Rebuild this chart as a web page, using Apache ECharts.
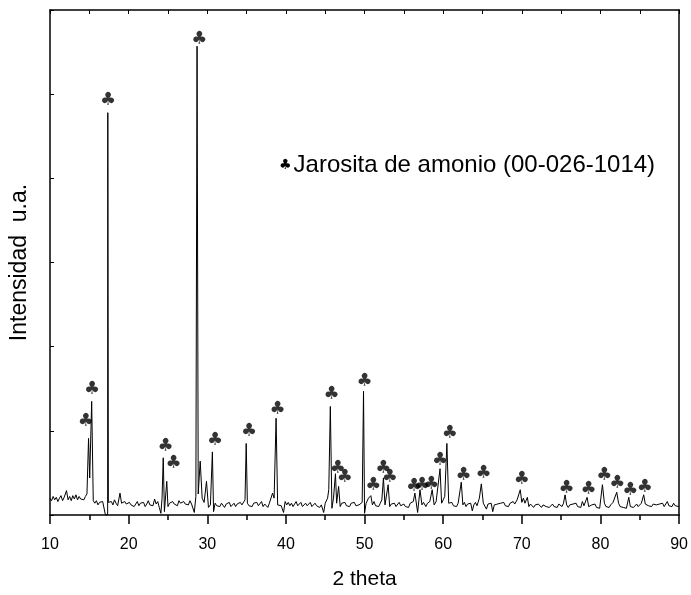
<!DOCTYPE html>
<html>
<head>
<meta charset="utf-8">
<script src="https://cdn.jsdelivr.net/npm/echarts@6/dist/echarts.min.js"></script>
<style>
  html, body { margin: 0; padding: 0; background: #fff; }
  #chart { width: 691px; height: 595px; }
</style>
</head>
<body>
<div id="chart"></div>
<script>
// diffractogram: [2 theta, intensity (a.u.)]
const xrdPattern = [
  [10.0, 20], [10.2, 17], [10.4, 22], [10.6, 18], [10.8, 21], [11.0, 16], [11.2, 20], [11.4, 23],
  [11.6, 17], [11.8, 21], [12.0, 19], [12.1, 29], [12.3, 18], [12.5, 22], [12.7, 17], [12.9, 23],
  [13.1, 19], [13.3, 24], [13.5, 18], [13.7, 22], [13.9, 19], [14.1, 21], [14.3, 18], [14.5, 22],
  [14.7, 25], [14.9, 91], [15.05, 44], [15.3, 135], [15.5, 17], [15.7, 14], [15.9, 17], [16.1, 12],
  [16.3, 15], [16.5, 13], [16.7, 16], [16.9, 14], [17.05, 0], [17.33, 0], [17.35, 478], [17.42, 15],
  [17.6, 13], [17.8, 16], [18.0, 12], [18.2, 18], [18.4, 14], [18.6, 11], [18.9, 26], [19.1, 14],
  [19.3, 12], [19.5, 16], [19.7, 13], [19.9, 11], [20.1, 15], [20.3, 12], [20.5, 14], [20.7, 10],
  [20.9, 13], [21.1, 16], [21.3, 11], [21.5, 14], [21.7, 12], [21.9, 15], [22.1, 10], [22.3, 13],
  [22.5, 17], [22.7, 12], [22.9, 14], [23.1, 11], [23.3, 19], [23.5, 13], [23.7, 16], [23.9, 9],
  [24.1, 2], [24.25, 20], [24.4, 68], [24.55, 4], [24.85, 40], [25.0, 10], [25.2, 14], [25.4, 12],
  [25.6, 16], [25.8, 13], [26.0, 15], [26.2, 11], [26.4, 17], [26.6, 14], [26.8, 12], [27.0, 16],
  [27.2, 13], [27.4, 15], [27.6, 12], [27.8, 17], [28.0, 13], [28.2, 11], [28.35, 3], [28.55, 22],
  [28.7, 557], [28.85, 25], [29.1, 64], [29.35, 20], [29.6, 15], [29.9, 40], [30.15, 9], [30.4, 12],
  [30.65, 75], [30.8, 4], [31.0, 14], [31.2, 11], [31.4, 13], [31.6, 10], [31.8, 14], [32.0, 12],
  [32.2, 9], [32.4, 13], [32.6, 11], [32.8, 15], [33.0, 10], [33.2, 12], [33.4, 14], [33.6, 10],
  [33.8, 13], [34.0, 11], [34.2, 15], [34.4, 12], [34.6, 14], [34.8, 18], [34.95, 85], [35.1, 14],
  [35.3, 11], [35.5, 13], [35.7, 10], [35.9, 14], [36.1, 12], [36.3, 15], [36.5, 11], [36.7, 13],
  [36.9, 16], [37.1, 10], [37.3, 13], [37.5, 12], [37.7, 9], [37.9, 14], [38.1, 13], [38.3, 26],
  [38.5, 20], [38.75, 115], [38.95, 12], [39.2, 14], [39.4, 11], [39.7, 3], [39.9, 16], [40.1, 12],
  [40.3, 15], [40.5, 11], [40.7, 14], [40.9, 10], [41.1, 13], [41.3, 16], [41.5, 11], [41.7, 13],
  [41.9, 15], [42.1, 10], [42.3, 12], [42.5, 14], [42.7, 11], [42.9, 13], [43.1, 15], [43.3, 10],
  [43.5, 12], [43.7, 14], [43.9, 11], [44.1, 13], [44.3, 9], [44.5, 12], [44.8, 3], [45.0, 14],
  [45.3, 20], [45.45, 30], [45.65, 129], [45.85, 8], [46.05, 20], [46.3, 49], [46.45, 14], [46.7, 34],
  [46.9, 10], [47.1, 14], [47.3, 12], [47.5, 15], [47.7, 11], [47.9, 13], [48.1, 10], [48.3, 14],
  [48.5, 12], [48.7, 15], [48.9, 11], [49.1, 13], [49.3, 12], [49.5, 10], [49.7, 15], [49.87, 147],
  [50.0, 2], [50.2, 14], [50.5, 20], [50.8, 23], [51.0, 12], [51.2, 16], [51.4, 11], [51.6, 13],
  [51.8, 10], [52.0, 14], [52.2, 18], [52.4, 44], [52.6, 12], [52.75, 14], [53.0, 36], [53.2, 10],
  [53.4, 13], [53.6, 11], [53.8, 14], [54.0, 10], [54.2, 12], [54.4, 15], [54.6, 11], [54.8, 9],
  [55.0, 13], [55.2, 10], [55.4, 12], [55.6, 9], [55.8, 14], [56.0, 13], [56.2, 16], [56.4, 26],
  [56.75, 3], [57.05, 30], [57.3, 12], [57.5, 15], [57.8, 10], [58.0, 14], [58.3, 16], [58.6, 30],
  [58.85, 12], [59.1, 16], [59.3, 14], [59.6, 55], [59.8, 14], [60.0, 18], [60.2, 22], [60.47, 85],
  [60.7, 14], [60.9, 12], [61.1, 15], [61.3, 11], [61.5, 13], [61.7, 10], [61.9, 14], [62.1, 16],
  [62.3, 39], [62.5, 12], [62.7, 15], [62.9, 10], [63.1, 13], [63.3, 11], [63.5, 14], [63.7, 5],
  [63.9, 12], [64.1, 15], [64.3, 11], [64.6, 20], [64.85, 37], [65.1, 14], [65.3, 12], [65.5, 7],
  [65.7, 13], [65.9, 11], [66.1, 14], [66.3, 4], [66.5, 12], [66.7, 10], [66.9, 13], [67.1, 11],
  [67.3, 14], [67.5, 12], [67.7, 15], [67.9, 11], [68.1, 13], [68.3, 10], [68.5, 14], [68.7, 12],
  [68.9, 16], [69.1, 13], [69.4, 18], [69.8, 30], [70.0, 15], [70.2, 20], [70.4, 14], [70.7, 21],
  [70.9, 10], [71.1, 13], [71.3, 11], [71.5, 9], [71.7, 12], [71.9, 10], [72.1, 13], [72.3, 11],
  [72.5, 9], [72.7, 12], [72.9, 14], [73.1, 10], [73.3, 12], [73.5, 9], [73.7, 11], [73.9, 13],
  [74.1, 10], [74.3, 12], [74.5, 9], [74.7, 13], [74.9, 11], [75.1, 10], [75.3, 14], [75.5, 24],
  [75.7, 12], [75.9, 9], [76.1, 12], [76.3, 10], [76.5, 13], [76.7, 11], [76.9, 14], [77.1, 10],
  [77.3, 12], [77.5, 9], [77.7, 16], [77.9, 11], [78.1, 13], [78.3, 21], [78.5, 10], [78.7, 8],
  [78.9, 12], [79.1, 10], [79.3, 13], [79.5, 9], [79.7, 11], [79.9, 8], [80.25, 36], [80.5, 14],
  [80.7, 10], [80.9, 12], [81.1, 9], [81.3, 12], [81.6, 15], [82.07, 27], [82.3, 14], [82.5, 10],
  [82.7, 12], [82.9, 9], [83.1, 11], [83.3, 8], [83.6, 21], [83.8, 10], [84.0, 12], [84.2, 9],
  [84.4, 11], [84.6, 13], [84.8, 10], [85.0, 12], [85.2, 14], [85.5, 24], [85.7, 13], [85.9, 15],
  [86.1, 11], [86.3, 12], [86.5, 10], [86.7, 13], [86.9, 11], [87.1, 12], [87.3, 10], [87.5, 13],
  [87.7, 11], [87.9, 14], [88.1, 10], [88.3, 12], [88.5, 16], [88.7, 11], [88.9, 13], [89.1, 10],
  [89.3, 14], [89.5, 11], [89.7, 9], [90.0, 10]
]

// club markers (jarosita de amonio reflections): [2 theta, height]
const clubMarks = [
  [14.56, 111], [15.36, 149], [17.4, 493], [24.7, 82], [25.7, 61], [29.0, 565],
  [31.0, 89], [35.3, 99], [38.95, 126], [45.8, 143], [46.6, 56], [47.5, 45],
  [50.0, 159], [51.1, 35], [52.4, 56], [53.2, 45], [56.3, 34], [57.3, 35],
  [58.5, 36], [59.6, 65], [60.85, 97], [62.6, 47], [65.15, 49], [70.0, 42],
  [75.7, 32], [78.5, 31], [80.5, 47], [82.15, 38], [83.8, 29], [85.65, 33]
]

const legendLabel = 'Jarosita de amonio (00-026-1014)'
const xTitle = '2 theta'
const yTitle = 'Intensidad  u.a.'

const FONT = "'Liberation Sans', Arial, sans-serif"
const CLUB = '\u2663'

const chart = echarts.init(document.getElementById('chart'))

const option = {
  animation: false,
  backgroundColor: '#fff',
  title: {
    left: 274,
    top: 148,
    text: '{c|' + CLUB + '}{t|' + legendLabel + '}',
    textStyle: {
      fontWeight: 'normal',
      rich: {
        c: { fontFamily: 'DejaVu Sans', fontSize: 14, fontWeight: 'normal', color: '#000', padding: [0, 2, 0, 0] },
        t: { fontFamily: FONT, fontSize: 24, fontWeight: 'normal', color: '#000' }
      }
    }
  },
  grid: { left: 49, right: 8, top: 10, bottom: 69 },
  xAxis: [
    {
      type: 'value',
      min: 10,
      max: 90,
      interval: 10,
      name: xTitle,
      nameLocation: 'middle',
      nameGap: 54,
      nameTextStyle: { fontFamily: FONT, fontSize: 21, color: '#000' },
      axisLine: { onZero: false, lineStyle: { color: '#000', width: 1.5 } },
      axisTick: { inside: false, length: 9, lineStyle: { color: '#000', width: 1.5 } },
      minorTick: { show: true, splitNumber: 2, length: 5, lineStyle: { color: '#000', width: 1.5 } },
      axisLabel: { margin: 22, fontFamily: FONT, fontSize: 16, color: '#000' },
      splitLine: { show: false }
    },
    {
      type: 'value',
      position: 'top',
      min: 10,
      max: 90,
      interval: 5,
      axisLine: { onZero: false, lineStyle: { color: '#000', width: 1.5 } },
      axisTick: { inside: true, length: 4, lineStyle: { color: '#000', width: 1 } },
      axisLabel: { show: false },
      splitLine: { show: false }
    }
  ],
  yAxis: [
    {
      type: 'value',
      min: 0,
      max: 600,
      interval: 100,
      name: yTitle,
      nameLocation: 'middle',
      nameGap: 19,
      nameTextStyle: { fontFamily: FONT, fontSize: 23, color: '#000' },
      axisLine: { show: true, onZero: false, lineStyle: { color: '#000', width: 1.5 } },
      axisTick: { show: true, inside: true, length: 4, lineStyle: { color: '#000', width: 1 } },
      axisLabel: { show: false },
      splitLine: { show: false }
    },
    {
      type: 'value',
      position: 'right',
      min: 0,
      max: 600,
      axisLine: { show: true, onZero: false, lineStyle: { color: '#000', width: 1.5 } },
      axisTick: { show: false },
      axisLabel: { show: false },
      splitLine: { show: false }
    }
  ],
  series: [
    {
      type: 'line',
      data: xrdPattern,
      showSymbol: false,
      symbol: 'none',
      lineStyle: { color: '#000', width: 1 },
      silent: true
    },
    {
      type: 'scatter',
      data: clubMarks,
      symbolSize: 1,
      itemStyle: { color: 'transparent' },
      label: {
        show: true,
        position: 'inside',
        formatter: CLUB,
        fontFamily: 'DejaVu Sans',
        fontSize: 18,
        color: '#000'
      },
      silent: true
    }
  ]
}

chart.setOption(option)
</script>
</body>
</html>
